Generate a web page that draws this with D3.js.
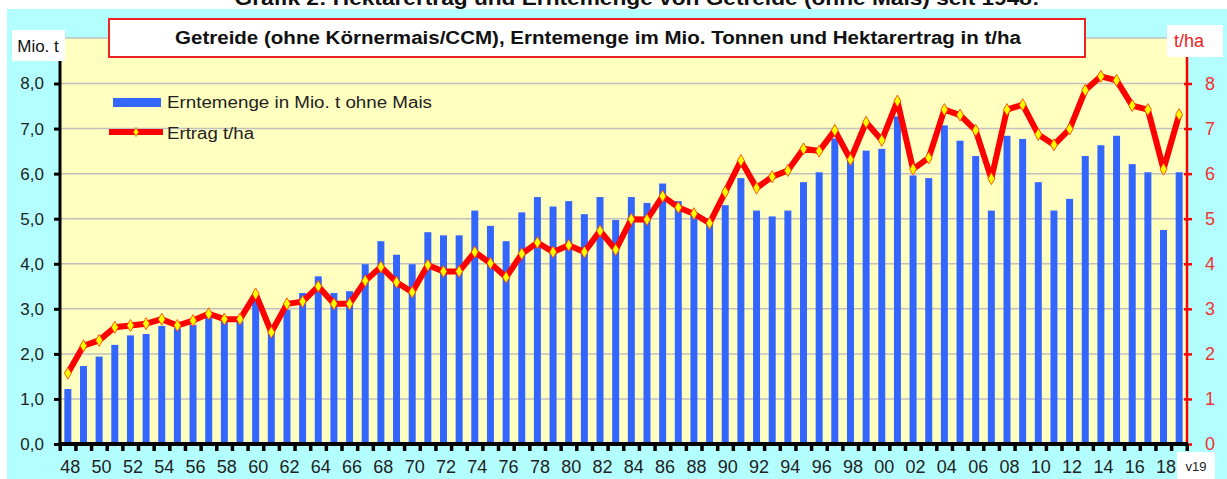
<!DOCTYPE html>
<html><head><meta charset="utf-8">
<script src="https://cdn.jsdelivr.net/npm/d3@7"></script>
<style>body{margin:0;background:#fff;}svg{display:block;font-family:Arial,"Liberation Sans",sans-serif;}</style>
</head><body>
<svg id="c" width="1227" height="479"></svg>
<script>
const years = d3.range(1948, 2020);
const ernteMenge = [1.22,1.73,1.94,2.2,2.41,2.44,2.62,2.57,2.64,2.8,2.76,2.72,3.2,2.6,2.98,3.35,3.72,3.35,3.39,3.99,4.5,4.2,3.99,4.7,
  4.63,4.63,5.18,4.84,4.5,5.14,5.48,5.27,5.39,5.1,5.48,4.97,5.48,5.35,5.78,5.39,5.13,5.0,5.3,5.9,5.18,5.05,5.18,5.81,6.03,
  6.78,6.31,6.51,6.55,7.27,5.96,5.9,7.07,6.73,6.39,5.18,6.84,6.77,5.81,5.18,5.44,6.39,6.63,6.84,6.21,6.03,4.75,6.03];
const ertrag = [1.57,2.18,2.3,2.59,2.63,2.67,2.77,2.63,2.74,2.89,2.77,2.77,3.33,2.48,3.11,3.16,3.5,3.11,3.11,3.62,3.93,3.59,3.37,3.97,
  3.83,3.83,4.26,4.01,3.7,4.22,4.47,4.26,4.41,4.26,4.73,4.31,4.99,4.98,5.5,5.25,5.11,4.9,5.59,6.29,5.68,5.93,6.07,6.55,6.5,
  6.96,6.31,7.14,6.74,7.61,6.1,6.35,7.42,7.3,6.96,5.89,7.42,7.53,6.87,6.64,6.99,7.85,8.16,8.07,7.51,7.42,6.1,7.31];
const leftTicks = [0,1,2,3,4,5,6,7,8];
const rightTicks = [0,1,2,3,4,5,6,7,8];
const xLabelYears = years.filter(y => y % 2 === 0);
const lastLabel = "v19";
const pageTitle = "Grafik 2: Hektarertrag und Erntemenge von Getreide (ohne Mais) seit 1948:";
const chartTitle = "Getreide (ohne Körnermais/CCM), Erntemenge im Mio. Tonnen und Hektarertrag in t/ha";
const legendLabels = ["Erntemenge in Mio. t ohne Mais", "Ertrag t/ha"];

const svg = d3.select("#c");
const L = 60, R = 1187, T = 38, B = 444;
const x = d3.scaleBand().domain(years).range([L, R]).padding(0);
const y = d3.scaleLinear().domain([0, 8]).range([B, 83.5]);
const y2 = d3.scaleLinear().domain([0, 8]).range([B, 83.5]);

// backgrounds
svg.append("rect").attr("x",7).attr("y",9).attr("width",1220).attr("height",470).attr("fill","#b3ffff");
svg.append("text").attr("x",637).attr("y",5).attr("text-anchor","middle").attr("font-size",20).attr("font-weight","bold").attr("fill","#111")
  .attr("textLength",805).attr("lengthAdjust","spacingAndGlyphs").text(pageTitle);
svg.append("rect").attr("x",L).attr("y",T).attr("width",R-L).attr("height",B-T).attr("fill","#ffffc0");

// gridlines
svg.append("line").attr("x1",L).attr("x2",R).attr("y1",T).attr("y2",T).attr("stroke","#c0c0c0").attr("stroke-width",1.5);
svg.append("g").selectAll("line").data(leftTicks.filter(d=>d>0)).join("line")
  .attr("x1",L).attr("x2",R).attr("y1",d=>y(d)).attr("y2",d=>y(d)).attr("stroke","#c0c0c0").attr("stroke-width",1.5);

// bars
svg.append("g").selectAll("rect").data(years).join("rect")
  .attr("x",(d)=>x(d)+x.bandwidth()/2-3.5).attr("width",7)
  .attr("y",(d,i)=>y(ernteMenge[i])).attr("height",(d,i)=>B-y(ernteMenge[i]))
  .attr("fill","#3366ff");

// line
const line = d3.line().x((d,i)=>x(years[i])+x.bandwidth()/2).y(d=>y2(d));
svg.append("path").datum(ertrag).attr("d",line).attr("fill","none").attr("stroke","#ff0000").attr("stroke-width",6).attr("stroke-linejoin","round");
const dia = d3.symbol().type(d3.symbolDiamond).size(42);
svg.append("g").selectAll("path").data(ertrag).join("path")
  .attr("transform",(d,i)=>`translate(${x(years[i])+x.bandwidth()/2},${y2(d)})`)
  .attr("d",dia).attr("fill","#ffff00").attr("stroke","#ff3300").attr("stroke-width",0.8);

// left axis
const la = svg.append("g").attr("transform",`translate(${L},0)`)
  .call(d3.axisLeft(y).tickValues(leftTicks).tickSize(6).tickPadding(10).tickFormat(d=>d3.format(".1f")(d).replace(".",",")));
la.select(".domain").remove();
la.selectAll(".tick line").attr("stroke","#000").attr("stroke-width",3);
la.selectAll(".tick text").attr("font-size",17).attr("fill","#222").attr("font-family","Arial, 'Liberation Sans', sans-serif");
svg.append("line").attr("x1",L).attr("x2",L).attr("y1",T).attr("y2",B+1).attr("stroke","#000").attr("stroke-width",3);

// right axis
const ra = svg.append("g").attr("transform",`translate(${R},0)`)
  .call(d3.axisRight(y2).tickValues(rightTicks).tickSize(5).tickPadding(13).tickFormat(d3.format("d")));
ra.select(".domain").remove();
ra.selectAll(".tick line").attr("stroke","#ff0000").attr("stroke-width",2.5).attr("x1",-3);
ra.selectAll(".tick text").attr("font-size",18).attr("fill","#ee3333").attr("font-family","Arial, 'Liberation Sans', sans-serif");
svg.append("line").attr("x1",R).attr("x2",R).attr("y1",T).attr("y2",B+1).attr("stroke","#ff0000").attr("stroke-width",2.5);

// bottom axis
const bandEdges = years.map(d=>x(d)).concat([R]);
svg.append("g").selectAll("rect").data(bandEdges).join("rect")
  .attr("x",d=>d-1.5).attr("y",B).attr("width",3.5).attr("height",7).attr("fill","#000");
svg.append("line").attr("x1",L-1.5).attr("x2",R+1).attr("y1",B).attr("y2",B).attr("stroke","#000").attr("stroke-width",4);
svg.append("g").selectAll("text").data(xLabelYears).join("text")
  .attr("x",d=>x(d)+x.bandwidth()/2+2.5).attr("y",473).attr("text-anchor","middle")
  .attr("font-size",18).attr("fill","#222").text(d=>String(d).slice(2));
svg.append("rect").attr("x",1177).attr("y",452).attr("width",38).attr("height",27).attr("fill","#fff");
svg.append("text").attr("x",1196).attr("y",471).attr("text-anchor","middle").attr("font-size",13).attr("fill","#222").text(lastLabel);

// unit labels
svg.append("rect").attr("x",12).attr("y",30).attr("width",53).attr("height",31).attr("fill","#fff");
svg.append("text").attr("x",38).attr("y",52).attr("text-anchor","middle").attr("font-size",17).attr("fill","#111").text("Mio. t");
svg.append("rect").attr("x",1167).attr("y",25).attr("width",56).attr("height",32).attr("fill","#fff");
svg.append("text").attr("x",1189).attr("y",47).attr("text-anchor","middle").attr("font-size",18).attr("fill","#ee2222").text("t/ha");

// title box
svg.append("rect").attr("x",109).attr("y",19).attr("width",976).attr("height",38).attr("fill","#fff").attr("stroke","#ee2222").attr("stroke-width",2);
svg.append("text").attr("x",598).attr("y",44).attr("text-anchor","middle").attr("font-size",18).attr("font-weight","bold").attr("fill","#111")
  .attr("textLength",846).attr("lengthAdjust","spacingAndGlyphs").text(chartTitle);

// legend
svg.append("rect").attr("x",113).attr("y",98).attr("width",48).attr("height",9).attr("fill","#3366ff");
svg.append("text").attr("x",167).attr("y",108).attr("font-size",16).attr("fill","#222")
  .attr("textLength",265).attr("lengthAdjust","spacingAndGlyphs").text(legendLabels[0]);
svg.append("line").attr("x1",109).attr("x2",163).attr("y1",132).attr("y2",132).attr("stroke","#ff0000").attr("stroke-width",6);
svg.append("path").attr("transform","translate(136,132)").attr("d",d3.symbol().type(d3.symbolDiamond).size(24)).attr("fill","#ffff00").attr("stroke","#ff3300").attr("stroke-width",0.6);
svg.append("text").attr("x",167).attr("y",139).attr("font-size",16).attr("fill","#222")
  .attr("textLength",87).attr("lengthAdjust","spacingAndGlyphs").text(legendLabels[1]);
</script>
</body></html>
